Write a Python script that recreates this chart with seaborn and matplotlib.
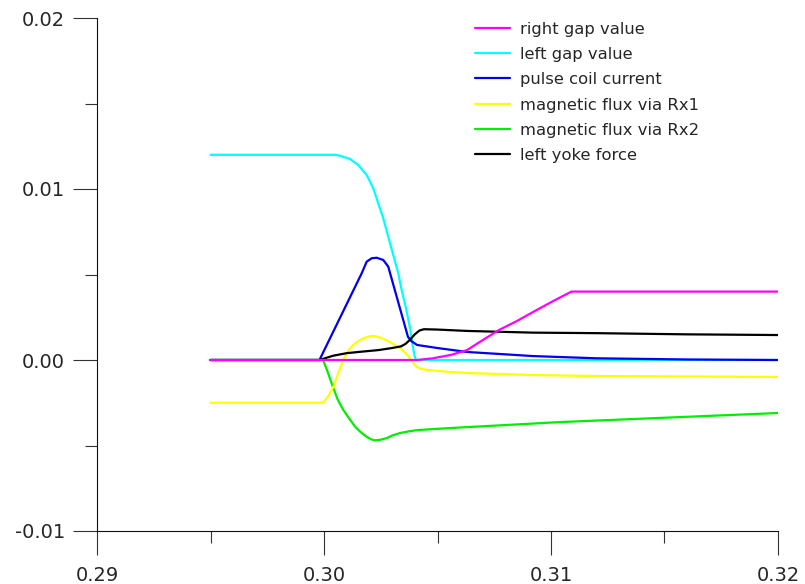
import numpy as np
import pandas as pd
import seaborn as sns
import matplotlib
matplotlib.use("Agg")
import matplotlib.pyplot as plt
from matplotlib.ticker import MultipleLocator, FuncFormatter

# series (time in s, value)
right_gap_t = [0.2950, 0.3041, 0.3048, 0.3056, 0.3063, 0.3070, 0.3077, 0.3085, 0.3092, 0.3101, 0.3109, 0.3200]
right_gap_v = [0.0, 0.0, 0.0001, 0.0003, 0.00058, 0.00117, 0.00175, 0.00228, 0.0028, 0.00345, 0.0040, 0.0040]

left_gap_t = [0.2950, 0.3005, 0.3007, 0.30115, 0.30151, 0.30188, 0.30217, 0.30239, 0.30261,
              0.30283, 0.30305, 0.30327, 0.30342, 0.3036, 0.3038, 0.3039, 0.30398, 0.30405, 0.3200]
left_gap_v = [0.012, 0.012, 0.01195, 0.01175, 0.0114, 0.01082, 0.01004, 0.00916, 0.00829,
              0.00721, 0.00614, 0.00508, 0.00409, 0.0031, 0.0018, 0.0009, 0.0003, 0.0, 0.0]

coil_t = [0.2950, 0.2998, 0.30166, 0.30188, 0.3021, 0.30232, 0.30261, 0.30283, 0.3037, 0.30385,
          0.3041, 0.3050, 0.3063, 0.3080, 0.3092, 0.3120, 0.3160, 0.3200]
coil_v = [0.0, 0.0, 0.00507, 0.00575, 0.00595, 0.00598, 0.00585, 0.00546, 0.00135, 0.0011,
          0.00088, 0.0007, 0.00047, 0.00033, 0.00023, 0.0001, 0.00003, 0.0]

flux1_t = [0.2950, 0.29996, 0.3002, 0.3004, 0.30084, 0.3011, 0.30128, 0.3015, 0.3017, 0.3019,
           0.30211, 0.3023, 0.3025, 0.3027, 0.3029, 0.30335, 0.3036, 0.30379, 0.3040, 0.3042,
           0.30454, 0.30555, 0.3063, 0.3092, 0.3122, 0.3200]
flux1_v = [-0.0025, -0.0025, -0.0021, -0.0016, 0.0, 0.0006, 0.00088, 0.0011, 0.00125, 0.00135,
           0.0014, 0.00138, 0.0013, 0.00118, 0.00105, 0.0007, 0.0004, 0.0001, -0.0003, -0.0005,
           -0.00058, -0.0007, -0.00076, -0.00088, -0.00094, -0.00099]

flux2_t = [0.2950, 0.29996, 0.30013, 0.3004, 0.3006, 0.30084, 0.3011, 0.30137, 0.3016, 0.30189,
           0.3021, 0.30225, 0.3025, 0.30278, 0.3030, 0.30335, 0.3037, 0.3041, 0.30555, 0.3104, 0.3200]
flux2_v = [0.0, 0.0, -0.00058, -0.0016, -0.0023, -0.0029, -0.0034, -0.0039, -0.0042, -0.0045,
           -0.00465, -0.0047, -0.00466, -0.00456, -0.00442, -0.00427, -0.00418, -0.0041, -0.00398,
           -0.00363, -0.0031]

force_t = [0.2950, 0.2998, 0.3004, 0.3010, 0.3016, 0.3024, 0.3030, 0.3034, 0.3036, 0.3038,
           0.3040, 0.3042, 0.3044, 0.3050, 0.3063, 0.3092, 0.3120, 0.3160, 0.3200]
force_v = [0.0, 0.0, 0.00025, 0.0004, 0.00048, 0.00058, 0.0007, 0.0008, 0.00095, 0.0012,
           0.0015, 0.00172, 0.0018, 0.00178, 0.0017, 0.0016, 0.00157, 0.0015, 0.00146]

labels = ["right gap value", "left gap value", "pulse coil current",
          "magnetic flux via Rx1", "magnetic flux via Rx2", "left yoke force"]
colors = ["#ff00ff", "#00ffff", "#0000ee", "#ffff00", "#00ee00", "#000000"]
series = [(right_gap_t, right_gap_v), (left_gap_t, left_gap_v), (coil_t, coil_v),
          (flux1_t, flux1_v), (flux2_t, flux2_v), (force_t, force_v)]

sns.set_style("ticks")
plt.rcParams["font.family"] = ["DejaVu Sans"]

fig = plt.figure(figsize=(8.05, 5.84), dpi=100)
ax = fig.add_axes([97 / 805, 53 / 584, 681 / 805, 513 / 584])

# draw back to front so the magenta line sits on top like the original
order = [1, 2, 4, 3, 5, 0]
for i in order:
    t, v = series[i]
    df = pd.DataFrame({"t": t, "v": v})
    sns.lineplot(data=df, x="t", y="v", ax=ax, color=colors[i], linewidth=1.6,
                 sort=False, estimator=None, label=labels[i])

ax.set_xlim(0.29, 0.32)
ax.set_ylim(-0.01, 0.02)
ax.xaxis.set_major_locator(MultipleLocator(0.01))
ax.xaxis.set_minor_locator(MultipleLocator(0.005))
ax.yaxis.set_major_locator(MultipleLocator(0.01))
ax.yaxis.set_minor_locator(MultipleLocator(0.005))
ax.xaxis.set_major_formatter(FuncFormatter(lambda v, p: f"{v:.2f}"))
ax.yaxis.set_major_formatter(FuncFormatter(lambda v, p: f"{v:.2f}"))
ax.tick_params(which="major", length=17, width=0.8, labelsize=14, color="#333333")
ax.tick_params(axis="x", which="major", pad=8)
ax.tick_params(axis="y", which="major", pad=6)
ax.tick_params(which="minor", length=8.5, width=0.8, color="#333333")
ax.set_xlabel("")
ax.set_ylabel("")
sns.despine(ax=ax)
for s in ["left", "bottom"]:
    ax.spines[s].set_linewidth(0.8)
    ax.spines[s].set_color("#111111")

handles, labs = ax.get_legend_handles_labels()
lookup = dict(zip(labs, handles))
ax.legend([lookup[l] for l in labels], labels, loc="upper left",
          bbox_to_anchor=(468.5 / 805, 1 - 15 / 584), bbox_transform=fig.transFigure,
          frameon=False, fontsize=11.8, handlelength=2.13, handletextpad=0.6,
          labelspacing=0.63, borderaxespad=0)

fig.savefig("out.png", dpi=100, facecolor="white")
